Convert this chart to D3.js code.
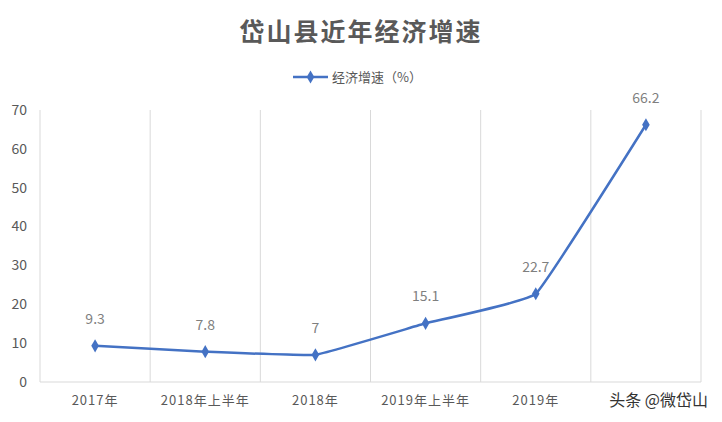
<!DOCTYPE html>
<html><head><meta charset="utf-8">
<script src="https://cdn.jsdelivr.net/npm/d3@7"></script>
<style>body{margin:0;background:#fff;font-family:"Noto Sans CJK SC","Noto Sans",sans-serif}</style>
</head><body><div id="chart"></div>
<script>
const categories = ["2017年", "2018年上半年", "2018年", "2019年上半年", "2019年", ""];
const values = [9.3, 7.8, 7, 15.1, 22.7, 66.2];
const yTicks = [0, 10, 20, 30, 40, 50, 60, 70];

const width = 722, height = 422;
const margin = { top: 110, right: 21, bottom: 40, left: 40 };
const svg = d3.select("#chart").append("svg").attr("width", width).attr("height", height);

const x = d3.scaleBand().domain(d3.range(categories.length)).range([margin.left, width - margin.right]);
const y = d3.scaleLinear().domain([0, 70]).range([height - margin.bottom, margin.top]);

// vertical grid lines
const edges = d3.range(categories.length + 1).map(i => margin.left + i * x.bandwidth());
svg.selectAll(".grid").data(edges).enter().append("line")
    .attr("x1", d => d).attr("x2", d => d)
    .attr("y1", y(70)).attr("y2", y(0))
    .attr("stroke", "#d9d9d9");

// baseline
svg.append("line").attr("x1", margin.left).attr("x2", width - margin.right)
    .attr("y1", y(0)).attr("y2", y(0)).attr("stroke", "#d9d9d9");

// y labels
svg.selectAll(".yl").data(yTicks).enter().append("text")
    .attr("x", 27).attr("y", d => y(d)).attr("dy", "0.35em")
    .attr("text-anchor", "end").attr("font-size", 14).attr("fill", "#595959")
    .text(d => d);

// x labels
svg.selectAll(".xl").data(categories).enter().append("text")
    .attr("x", (d, i) => x(i) + x.bandwidth() / 2).attr("y", 405)
    .attr("text-anchor", "middle").attr("font-size", 13).attr("fill", "#595959")
    .attr("letter-spacing", "1px")
    .text(d => d);

const line = d3.line().x((d, i) => x(i) + x.bandwidth() / 2).y(d => y(d)).curve(d3.curveCardinal.tension(0.75));
svg.append("path").datum(values).attr("d", line)
    .attr("fill", "none").attr("stroke", "#4472c4").attr("stroke-width", 2.5);

svg.selectAll(".pt").data(values).enter().append("path")
    .attr("d", d3.symbol(d3.symbolDiamond, 50))
    .attr("transform", (d, i) => `translate(${x(i) + x.bandwidth() / 2},${y(d)})`)
    .attr("fill", "#4472c4");

svg.selectAll(".vl").data(values).enter().append("text")
    .attr("x", (d, i) => x(i) + x.bandwidth() / 2).attr("y", d => y(d) - 22)
    .attr("text-anchor", "middle").attr("font-size", 14).attr("fill", "#7f7f7f")
    .text(d => d);

// title
svg.append("text").attr("x", 361).attr("y", 41).attr("text-anchor", "middle")
    .attr("font-size", 25).attr("font-weight", "bold").attr("fill", "#595959")
    .attr("letter-spacing", "2px")
    .text("岱山县近年经济增速");

// legend
svg.append("line").attr("x1", 293).attr("x2", 328).attr("y1", 77).attr("y2", 77)
    .attr("stroke", "#4472c4").attr("stroke-width", 2.5);
svg.append("path").attr("d", d3.symbol(d3.symbolDiamond, 50))
    .attr("transform", "translate(310.5,77)").attr("fill", "#4472c4");
svg.append("text").attr("x", 332).attr("y", 77).attr("dy", "0.35em")
    .attr("font-size", 13).attr("fill", "#595959").text("经济增速（%）");

// watermark
svg.append("text").attr("x", 708).attr("y", 406).attr("text-anchor", "end")
    .attr("font-size", 16).attr("fill", "#333")
    .attr("stroke", "#fff").attr("stroke-width", 3).attr("paint-order", "stroke")
    .text("头条 @微岱山");
</script></body></html>
